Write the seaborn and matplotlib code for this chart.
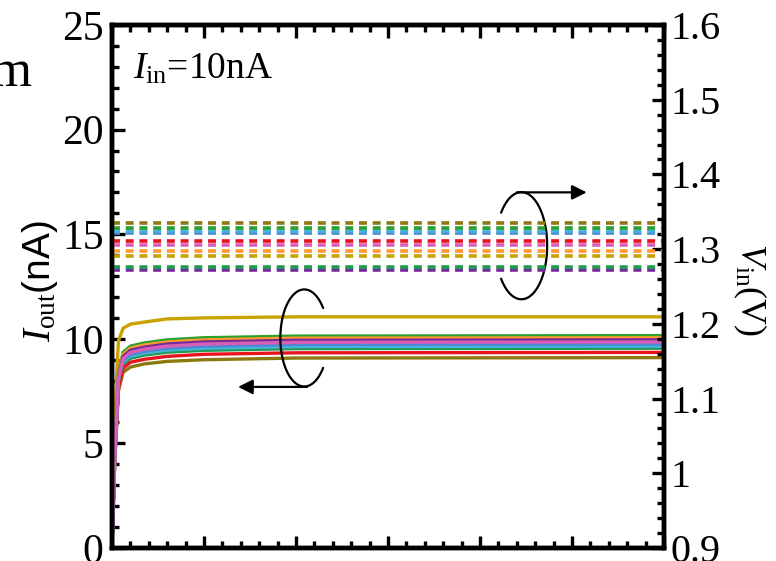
import numpy as np
import pandas as pd
import seaborn as sns
import matplotlib.pyplot as plt
from matplotlib.ticker import MultipleLocator

# Time samples shared by every output-current trace
t = [0, 0.03, 0.07, 0.12, 0.2, 0.35, 0.6, 1.0, 2.0, 6.0]

# Output current (nA) of each device
i_gold   = [0, 6.6, 9.9, 10.5, 10.7, 10.8, 10.95, 11.0, 11.05, 11.05]
i_olive  = [0, 4.1, 7.5, 8.4, 8.65, 8.8, 8.92, 9.0, 9.08, 9.1]
i_green  = [0, 4.6, 8.3, 9.35, 9.65, 9.8, 9.95, 10.05, 10.13, 10.15]
i_green2 = [0, 4.3, 7.8, 8.8, 9.07, 9.22, 9.36, 9.45, 9.53, 9.55]
i_cyan   = [0, 4.3, 7.9, 8.9, 9.17, 9.32, 9.46, 9.55, 9.63, 9.65]
i_red    = [0, 4.2, 7.7, 8.6, 8.88, 9.02, 9.16, 9.26, 9.33, 9.35]
i_orange = [0, 4.5, 8.2, 9.25, 9.55, 9.7, 9.85, 9.95, 10.03, 10.05]
i_purple = [0, 4.5, 8.15, 9.15, 9.45, 9.6, 9.75, 9.85, 9.93, 9.95]
i_blue   = [0, 4.4, 8.0, 8.95, 9.25, 9.4, 9.55, 9.65, 9.73, 9.75]
i_pink   = [0, 4.5, 8.1, 9.05, 9.35, 9.5, 9.65, 9.75, 9.83, 9.85]

# Input voltage (V) of each device, constant over time
v_in = {
    "gold": 1.291, "olive": 1.335, "green": 1.328, "green2": 1.276,
    "cyan": 1.324, "red": 1.311, "orange": 1.298, "purple": 1.272,
    "blue": 1.322, "pink": 1.306,
}
t_span = [0, 6]

palette = {
    "gold": "#c9a200", "olive": "#8c7a10", "green": "#2ca02c",
    "green2": "#1f9a50", "cyan": "#45b4dc", "red": "#e8141c",
    "orange": "#ff9a30", "purple": "#762b96", "blue": "#4c88d4",
    "pink": "#d85fb8",
}
currents = {
    "gold": i_gold, "olive": i_olive, "green": i_green, "green2": i_green2,
    "cyan": i_cyan, "red": i_red, "orange": i_orange, "purple": i_purple,
    "blue": i_blue, "pink": i_pink,
}

sns.set_theme(style="ticks")
plt.rcParams["font.family"] = ["Liberation Serif", "DejaVu Serif"]
plt.rcParams["mathtext.fontset"] = "custom"
plt.rcParams["mathtext.rm"] = "Liberation Serif"
plt.rcParams["mathtext.it"] = "Liberation Serif:italic"
plt.rcParams["text.color"] = "black"

fig = plt.figure(figsize=(7.76, 5.61), dpi=100)
ax = fig.add_axes([112 / 776, 1 - 548 / 561, 552 / 776, 523 / 561])
ax2 = ax.twinx()

# Output current traces (left axis)
cur_df = pd.DataFrame(
    [(name, tt, v) for name, vals in currents.items() for tt, v in zip(t, vals)],
    columns=["device", "t", "I"],
)
sns.lineplot(data=cur_df, x="t", y="I", hue="device", palette=palette,
             hue_order=list(currents), linewidth=2.4, ax=ax, legend=False,
             estimator=None, sort=False)

# Input voltage levels (right axis)
volt_df = pd.DataFrame(
    [(name, tt, v) for name, v in v_in.items() for tt in t_span],
    columns=["device", "t", "V"],
)
sns.lineplot(data=volt_df, x="t", y="V", hue="device", palette=palette,
             hue_order=["blue", "purple", "green2", "gold", "orange", "pink",
                        "red", "cyan", "green", "olive"],
             linewidth=2.6, ax=ax2, legend=False, estimator=None)
for ln in ax2.get_lines():
    ln.set_dashes((2.2, 1.6))

ax.set_xlim(0, 6)
ax.set_ylim(0, 25)
ax2.set_ylim(0.9, 1.6)

ax.xaxis.set_major_locator(MultipleLocator(1))
ax.xaxis.set_minor_locator(MultipleLocator(0.2))
ax.yaxis.set_major_locator(MultipleLocator(5))
ax.yaxis.set_minor_locator(MultipleLocator(1))
ax2.yaxis.set_major_locator(MultipleLocator(0.1))
ax2.yaxis.set_minor_locator(MultipleLocator(0.02))
ax2.set_yticks([0.9, 1.0, 1.1, 1.2, 1.3, 1.4, 1.5, 1.6])
ax2.set_yticklabels(["0.9", "1", "1.1", "1.2", "1.3", "1.4", "1.5", "1.6"])

ax.tick_params(axis="x", which="both", direction="in", top=True, bottom=True,
               labelbottom=False, width=2.4, color="black")
ax.tick_params(axis="y", which="both", direction="in", left=True, right=False,
               width=2.4, labelsize=30, pad=6, color="black",
               labelcolor="black")
ax.tick_params(which="major", length=9)
ax.tick_params(which="minor", length=5)
ax2.tick_params(axis="y", which="both", direction="in", width=2.4,
                labelsize=29, pad=5, color="black", labelcolor="black")
ax2.tick_params(which="major", length=9)
ax2.tick_params(which="minor", length=5)

for a in (ax, ax2):
    for s in a.spines.values():
        s.set_linewidth(3.2)
        s.set_color("black")
        s.set_visible(True)
    a.set_xlabel("")
    a.set_ylabel("")


def open_loop(axis, cx, cy, rx, ry, start_deg, end_deg):
    """Draw an open elliptical loop (parametric angles, counter-clockwise)."""
    th = np.radians(np.linspace(start_deg, end_deg, 120))
    axis.plot(cx + rx * np.cos(th), cy + ry * np.sin(th), color="black",
              lw=1.6, solid_capstyle="round")


# Rotation markers tying each group of curves to its axis
open_loop(ax, 2.09, 10.04, 0.26, 2.32, 38, 322)
ax.annotate("", xy=(1.37, 7.7), xytext=(2.12, 7.7),
            arrowprops=dict(arrowstyle="-|>", color="black", lw=1.6,
                            mutation_scale=22, shrinkA=0, shrinkB=0))
open_loop(ax, 4.45, 14.45, 0.28, 2.56, -142, 142)
ax.annotate("", xy=(5.16, 17.0), xytext=(4.4, 17.0),
            arrowprops=dict(arrowstyle="-|>", color="black", lw=1.6,
                            mutation_scale=22, shrinkA=0, shrinkB=0))

ax.text(0.038, 0.897, r"$\mathit{I}_{\mathrm{in}}$=10nA", transform=ax.transAxes,
        fontsize=27, ha="left", va="baseline", color="black")

fig.text(40 / 776, 1 - 281 / 561, r"$\mathit{I}_{\mathrm{out}}$(nA)",
         rotation=90, ha="center", va="center", fontsize=28,
         family=["Liberation Sans", "DejaVu Sans"], color="black")
fig.text(750 / 776, 1 - 290 / 561, r"$\mathit{V}_{\mathrm{in}}$(V)",
         rotation=270, ha="center", va="center", fontsize=26, color="black")
fig.text(32 / 776, 1 - 86 / 561, "m", ha="right", va="baseline", fontsize=38,
         color="black")

fig.savefig("out.png", dpi=100)
